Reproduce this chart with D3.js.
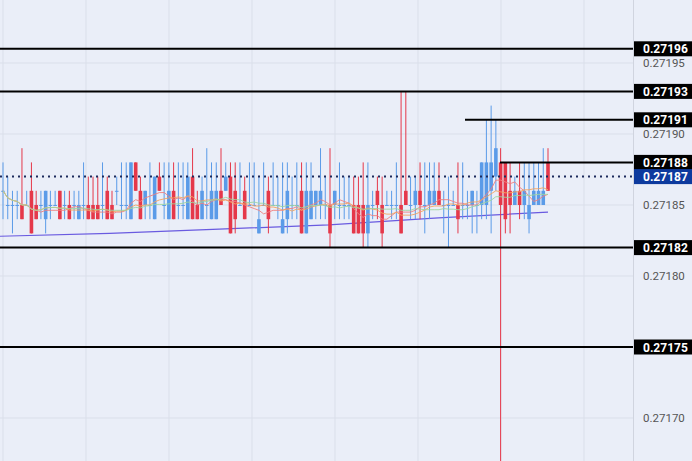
<!DOCTYPE html>
<html><head><meta charset="utf-8">
<script src="https://cdn.jsdelivr.net/npm/d3@7"></script>
<style>body{margin:0;background:#eaeef8;}svg{display:block;font-family:Roboto,"Liberation Sans",sans-serif;}</style>
</head><body><svg id="c" width="692" height="461"></svg>
<script>
const opens  = [86,85,85,85,85,85,86,85,85,84,85,85,86,85,85,85,84,85,85,85,85,85,86,85,86,85,85,84,88,86,85,85,84,87,85,84,86,85,85,84,87,85,84,85,84,84,86,86,87,86,85,86,85,85,83,85,86,85,85,83,84,85,85,86,83,84,85,85,85,85,85,85,85,85,85,85,85,83,85,86,85,85,85,85,85,86,85,85,86,85,85,85,86,85,85,85,85,85,85,85,85,85,85,86,87,88,88,86,85,86,85,84,85,85,85,88].map(v=>0.271+v/1e5);
const highs  = [88,87,86,86,89,86,88,86,86,86,86,86,86,86,86,86,86,88,87,87,87,88,87,86,87,88,88,88,88,87,86,88,87,88,88,88,88,88,88,88,89,86,87,89,88,88,89,88,88,88,88,87,88,88,87,88,87,88,87,88,88,87,88,88,88,88,86,89,87,89,86,88,87,87,87,87,88,88,86,87,87,86,86,88,93,93,87,87,88,88,88,88,88,86,87,86,88,88,86,86,86,88,91,92,91,89,88,88,87,88,88,88,88,88,89,89].map(v=>0.271+v/1e5);
const lows   = [84,84,83,84,84,85,83,84,84,83,84,85,84,84,84,84,84,84,84,84,84,84,84,84,85,84,84,84,86,84,84,84,84,86,84,84,84,84,84,84,84,84,84,84,84,84,85,86,83,83,85,84,85,85,83,85,83,85,84,83,83,84,84,83,83,84,84,84,84,82,84,84,84,84,83,83,82,82,84,84,82,85,84,84,83,85,84,84,84,83,84,85,85,83,82,85,83,84,84,83,83,84,84,83,86,65,83,83,85,84,84,83,85,85,85,86].map(v=>0.271+v/1e5);
const closes = [86,85,85,85,84,85,83,84,85,86,85,85,84,85,84,85,85,85,84,84,84,85,84,84,86,85,85,88,86,84,86,85,87,86,85,86,84,85,85,87,84,84,86,85,86,86,85,87,83,84,85,84,85,85,84,85,84,85,85,84,86,85,85,83,86,86,86,86,85,83,86,85,85,85,83,83,83,85,85,85,83,85,85,85,83,85,85,86,85,85,86,86,85,85,85,85,84,85,85,86,85,88,88,88,89,85,84,85,86,85,86,85,86,86,86,86].map(v=>0.271+v/1e5);
const slowMA = [0.271828,0.271830,0.271833,0.271836,0.271841,0.271845];
const levels = [0.27196,0.27193,0.27191,0.27188,0.27182,0.27175];
const levelStart = [0,0,465,500,0,0];
const lastPrice = 0.27187;
const ticks = [0.27195,0.27190,0.27185,0.27180,0.27170];

const W=692,H=461,PW=633;
const svg=d3.select("#c");
const y=d3.scaleLinear().domain([0.27185-205/1420000,0.27185+205/1420000]).range([410,0]);
const n=opens.length;
const x=d3.scaleLinear().domain([0,n-1]).range([3,548]);
svg.append("rect").attr("width",W).attr("height",H).attr("fill","#eaeef8");
[0.27195,0.2719,0.27185,0.2718,0.27175,0.2717].forEach(v=>svg.append("line").attr("x1",0).attr("x2",PW).attr("y1",y(v)).attr("y2",y(v)).attr("stroke","#dadfea"));
d3.range(3,PW,83).forEach(g=>svg.append("line").attr("x1",g).attr("x2",g).attr("y1",0).attr("y2",H).attr("stroke","#dadfea"));
svg.append("line").attr("x1",PW+0.5).attr("x2",PW+0.5).attr("y1",0).attr("y2",H).attr("stroke","#d0d4df");
const sx=d3.scaleLinear().domain([0,slowMA.length-1]).range([0,548]);
svg.append("path").datum(slowMA).attr("fill","none").attr("stroke","#6a5be0").attr("stroke-width",1.2)
 .attr("d",d3.line().x((d,i)=>sx(i)).y(d=>y(d)));
const up="#5b9be8",dn="#e5384a";
for(let i=0;i<n;i++){
  const c=closes[i]>=opens[i]?up:dn;
  svg.append("line").attr("x1",x(i)).attr("x2",x(i)).attr("y1",y(highs[i])).attr("y2",y(lows[i])).attr("stroke",c).attr("stroke-width",1);
  const t=y(Math.max(opens[i],closes[i])),b=y(Math.min(opens[i],closes[i]));
  svg.append("rect").attr("x",x(i)-1.8).attr("width",3.6).attr("y",t).attr("height",Math.max(1,b-t)).attr("fill",c);
}
function sma(p){return closes.map((d,i)=>d3.mean(closes.slice(Math.max(0,i-p+1),i+1)));}
[[8,"#f08080"],[14,"#f4a460"],[24,"#9ed6a0"]].forEach(([p,col])=>{
  svg.append("path").datum(sma(p)).attr("fill","none").attr("stroke",col).attr("stroke-width",1).attr("opacity",0.9)
   .attr("d",d3.line().x((d,i)=>x(i)).y(d=>y(d)));
});
svg.append("line").attr("x1",0).attr("x2",PW).attr("y1",y(lastPrice)).attr("y2",y(lastPrice)).attr("stroke","#1c2a5c").attr("stroke-width",2).attr("stroke-dasharray","2,4");
levels.forEach((v,i)=>svg.append("line").attr("x1",levelStart[i]).attr("x2",PW).attr("y1",y(v)).attr("y2",y(v)).attr("stroke","#000").attr("stroke-width",2));
ticks.forEach(v=>svg.append("text").attr("x",643).attr("y",y(v)+4).attr("font-size",11.5).attr("fill","#555").text(v.toFixed(5)));
function label(v,bg){
  svg.append("rect").attr("x",PW+1).attr("y",y(v)-7.5).attr("width",W-PW-1).attr("height",15).attr("fill",bg);
  svg.append("text").attr("x",643).attr("y",y(v)+4.5).attr("font-size",12).attr("font-weight","bold").attr("fill","#fff").text(v.toFixed(5));
}
levels.forEach(v=>label(v,"#000"));
label(lastPrice,"#0d3a9e");
</script></body></html>
